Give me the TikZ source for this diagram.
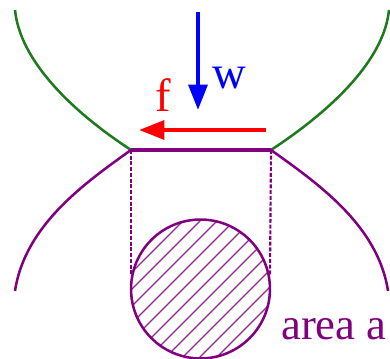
\documentclass[tikz,border=0pt]{standalone}
\usepackage{fontspec}
\setmainfont{Liberation Serif}
\usetikzlibrary{arrows.meta}
\definecolor{bowlgreen}{HTML}{1F7A1F}
\definecolor{contactpurple}{HTML}{800080}
\begin{document}
\begin{tikzpicture}[
      x=0.75pt, y=-0.75pt,
      upper/.style={bowlgreen, line width=1.9pt},
      lower/.style={contactpurple, line width=1.9pt},
      guide/.style={contactpurple, line width=1.6pt, dash pattern=on 3pt off 1.3pt},
      hatchline/.style={contactpurple!85, line width=1pt},
      force/.style={line width=3.2pt, -{Triangle[length=19pt, width=14pt]}},
      forcelabel/.style={font=\fontsize{35}{35}\selectfont, inner sep=0pt, anchor=base},
    ]
      \useasboundingbox (0,0) rectangle (390,359);

      \coordinate (cl) at (131,150);
      \coordinate (cr) at (271,150);
      \coordinate (gl) at (15,10);
      \coordinate (gr) at (389,10);
      \coordinate (pl) at (15,291);
      \coordinate (pr) at (388,291);
      \coordinate (wtop) at (198,12);
      \coordinate (wtip) at (198,110);
      \coordinate (ftail) at (266,130);
      \coordinate (ftip) at (139,130);
      \coordinate (dl) at (131,275);
      \coordinate (dr) at (270,275);

      % hatched area
      \begin{scope}
        \clip (200.5,289) circle [radius=69.5];
        \foreach \k in {-6,...,7}
          \draw[hatchline] (130,289+\k*17+70) -- (272,289+\k*17-72);
      \end{scope}
      \node[draw=contactpurple, line width=1.9pt, circle, minimum size=104.2pt, inner sep=0pt] (area) at (200.5,289) {};

      % surfaces
      \draw[upper] (gl) .. controls (20,60) and (70,110) .. (cl);
      \draw[upper] (gr) .. controls (384,60) and (332,110) .. (cr);
      \draw[lower] (pl) .. controls (25,225) and (85,183) .. (cl);
      \draw[lower] (pr) .. controls (378,225) and (317,183) .. (cr);
      \draw[lower, line width=2.4pt] (cl) -- (cr);

      \draw[guide] (cl) -- (dl);
      \draw[guide] (cr) -- (dr);

      % forces
      \draw[force, blue] (wtop) -- (wtip);
      \draw[force, red] (ftail) -- (ftip);

      \node[forcelabel, text=blue] (w) at (229,89) {w};
      \node[forcelabel, text=red] (f) at (163,112) {f};
      \node[forcelabel, font=\fontsize{33.5}{34}\selectfont, text=contactpurple, anchor=base west] (arealabel) at (281,340) {area a};
    \end{tikzpicture}
\end{document}
